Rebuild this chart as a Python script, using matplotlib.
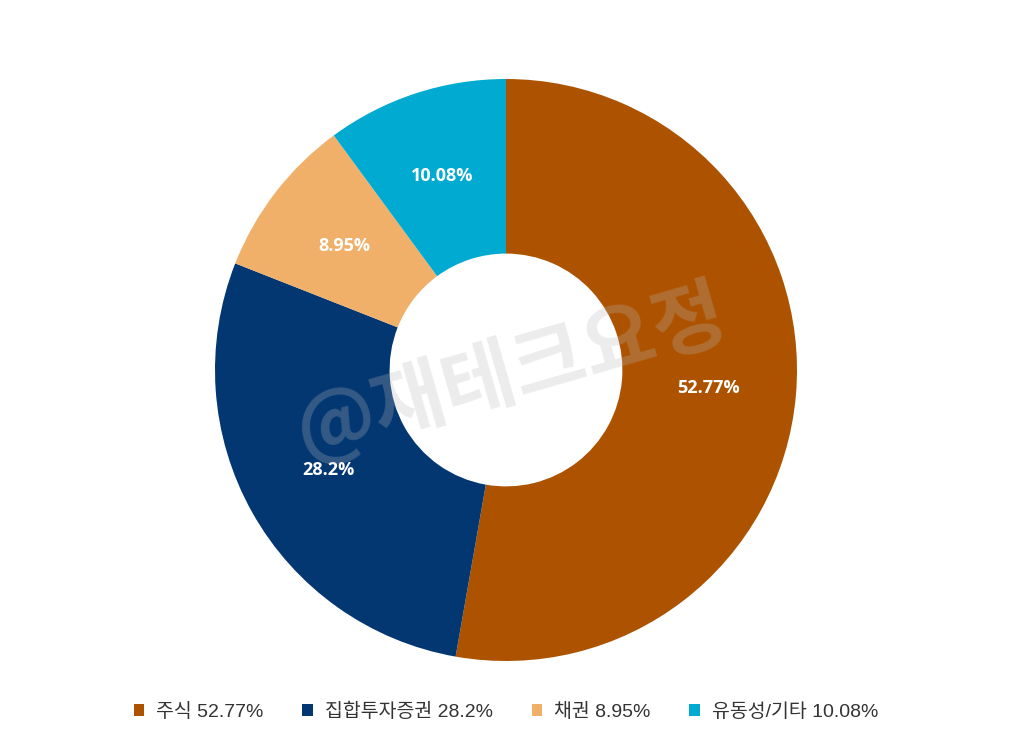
import matplotlib.pyplot as plt
from matplotlib.patches import Patch

plt.rcParams['font.family'] = ['Noto Sans CJK KR', 'DejaVu Sans']

categories = ["주식", "집합투자증권", "채권", "유동성/기타"]
values = [52.77, 28.2, 8.95, 10.08]
colors = ["#AD5300", "#033772", "#F0B06A", "#00AAD0"]

fig = plt.figure(figsize=(10.24, 7.47), dpi=100)
# pie centre at (506, 370) px, outer radius 291 px
cx, cy, r = 506, 747 - 370, 291
ax = fig.add_axes([(cx - r) / 1024, (cy - r) / 747, 2 * r / 1024, 2 * r / 747])

wedges, texts, autotexts = ax.pie(
    values, colors=colors, startangle=90, counterclock=False, radius=1,
    autopct=lambda p: "{:g}%".format(round(p, 2)), pctdistance=0.7,
    wedgeprops=dict(width=0.6, edgecolor="none"),
    textprops=dict(family=["Open Sans", "DejaVu Sans"]))
for t in autotexts:
    t.set_color("white")
    t.set_fontsize(13)
    t.set_fontweight("bold")
ax.set_xlim(-1, 1)
ax.set_ylim(-1, 1)
ax.axis("off")

# watermark
fig.text(0.499, 0.5, "@재테크요정", fontsize=57, fontweight="bold",
         color="#b8b8b8", alpha=0.27, rotation=16, ha="center", va="center")

handles = [Patch(facecolor=c, edgecolor="none") for c in colors]
labels = ["{} {:g}%".format(n, v) for n, v in zip(categories, values)]
fig.legend(handles, labels, loc="center", bbox_to_anchor=(0.494, 0.047),
           ncol=4, frameon=False,
           prop=dict(family=["Liberation Sans", "Noto Sans CJK KR"], size=14),
           labelcolor="#333333",
           handlelength=0.55, handleheight=0.55, handletextpad=0.6,
           columnspacing=2.0)

fig.savefig("out.png", dpi=100)
